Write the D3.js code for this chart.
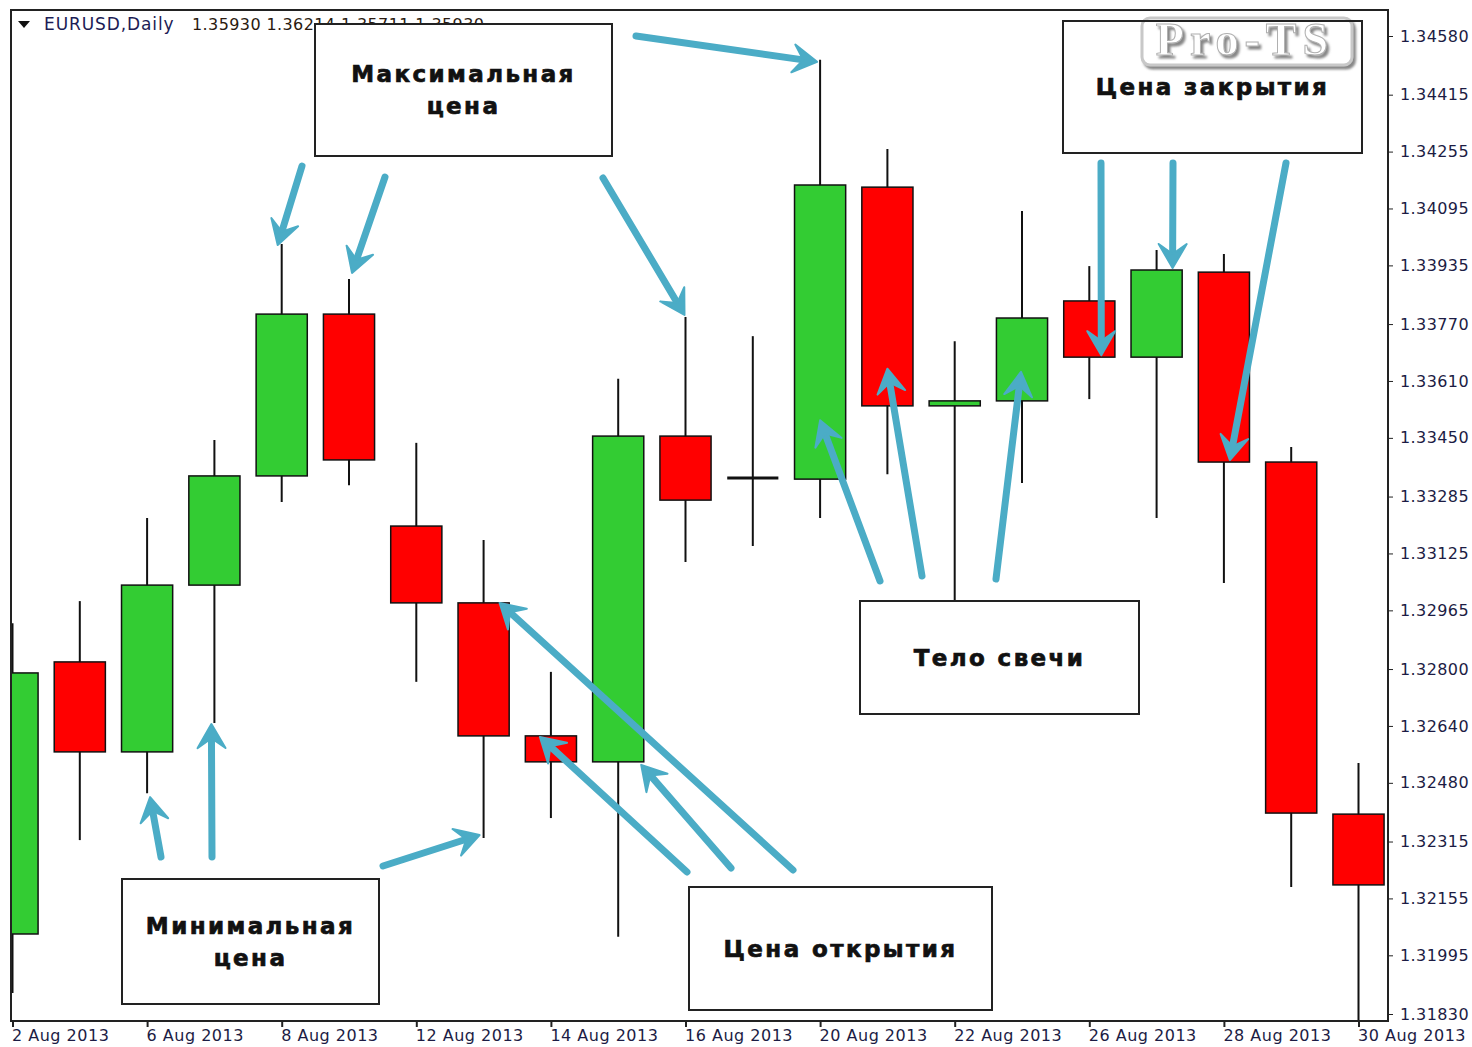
<!DOCTYPE html>
<html lang="ru">
<head>
<meta charset="UTF-8">
<title>EURUSD Daily</title>
<style>
  body { margin: 0; background: #fff; }
  svg { display: block; }
</style>
</head>
<body>
<script src="https://d3js.org/d3.v7.min.js"></script>
<script>
// candle dates (Aug 2013)
const dates = ["2013-08-02", "2013-08-05", "2013-08-06", "2013-08-07", "2013-08-08", "2013-08-09",
  "2013-08-12", "2013-08-13", "2013-08-14", "2013-08-15", "2013-08-16", "2013-08-19",
  "2013-08-20", "2013-08-21", "2013-08-22", "2013-08-23", "2013-08-26", "2013-08-27",
  "2013-08-28", "2013-08-29", "2013-08-30"];
const opens  = [1.32055, 1.32820, 1.32567, 1.33036, 1.33343, 1.33798, 1.33202, 1.32986, 1.32612, 1.32539, 1.33455,
  1.33337, 1.33334, 1.34155, 1.33540, 1.33554, 1.33835, 1.33677, 1.33916, 1.33382, 1.32392];
const highs  = [1.32929, 1.32991, 1.33225, 1.33444, 1.33995, 1.33897, 1.33436, 1.33163, 1.32792, 1.33616, 1.33790,
  1.33736, 1.34513, 1.34262, 1.33722, 1.34088, 1.33933, 1.33978, 1.33967, 1.33424, 1.32536];
const lows   = [1.31889, 1.32319, 1.32451, 1.32648, 1.33270, 1.33317, 1.32764, 1.32325, 1.32381, 1.32047, 1.33101,
  1.33146, 1.33225, 1.33348, 1.32960, 1.33323, 1.33559, 1.33225, 1.33042, 1.32187, 1.31800];
const closes = [1.32789, 1.32567, 1.33036, 1.33343, 1.33798, 1.33388, 1.32986, 1.32612, 1.32539, 1.33455, 1.33275,
  1.33337, 1.34161, 1.33540, 1.33554, 1.33787, 1.33677, 1.33922, 1.33382, 1.32395, 1.32193];

// axis labels
const yTickLabels = ["1.34580", "1.34415", "1.34255", "1.34095", "1.33935", "1.33770", "1.33610", "1.33450",
  "1.33285", "1.33125", "1.32965", "1.32800", "1.32640", "1.32480", "1.32315", "1.32155", "1.31995", "1.31830"];
const xTickDates = ["2013-08-02", "2013-08-06", "2013-08-08", "2013-08-12", "2013-08-14", "2013-08-16",
  "2013-08-20", "2013-08-22", "2013-08-26", "2013-08-28", "2013-08-30"];
const headerName = "EURUSD,Daily";
const headerValues = "1.35930 1.36214 1.35711 1.35930";

// Set Dimensions
const W = 1472, H = 1047;
const plot = {left: 11, top: 10, right: 1388, bottom: 1021};

const svg = d3.select("body").append("svg")
  .attr("width", W).attr("height", H)
  .style("font-family", "'DejaVu Sans', sans-serif");

svg.append("rect").attr("width", W).attr("height", H).attr("fill", "#fff");

const defs = svg.append("defs");
const shadow = defs.append("filter").attr("id", "logo-shadow")
  .attr("x", "-10%").attr("y", "-20%").attr("width", "130%").attr("height", "150%");
shadow.append("feDropShadow").attr("dx", 2.5).attr("dy", 3).attr("stdDeviation", 1.2)
  .attr("flood-color", "#7a7a7a").attr("flood-opacity", 0.9);

const x = d3.scalePoint().domain(dates).range([12.5, 1358.5]);
const y = d3.scaleLinear().domain([1.3183, 1.3458]).range([1014, 36]);
const bodyW = x.step() * 0.76;

const candles = dates.map((d, i) => ({date: d, o: opens[i], h: highs[i], l: lows[i], c: closes[i]}));

svg.append("clipPath").attr("id", "plot-clip")
  .append("rect")
  .attr("x", plot.left).attr("y", plot.top)
  .attr("width", plot.right - plot.left).attr("height", plot.bottom - plot.top);

const cg = svg.append("g").attr("clip-path", "url(#plot-clip)");

// wicks
cg.selectAll("line.wick").data(candles).enter().append("line")
  .attr("class", "wick")
  .attr("x1", d => x(d.date)).attr("x2", d => x(d.date))
  .attr("y1", d => y(d.h)).attr("y2", d => y(d.l))
  .attr("stroke", "#111").attr("stroke-width", 2);

// bodies
cg.selectAll("rect.body").data(candles.filter(d => d.o !== d.c)).enter().append("rect")
  .attr("class", "body")
  .attr("x", d => x(d.date) - bodyW / 2)
  .attr("width", bodyW)
  .attr("y", d => y(Math.max(d.o, d.c)))
  .attr("height", d => Math.max(1.5, Math.abs(y(d.o) - y(d.c))))
  .attr("fill", d => d.c > d.o ? "#33cc33" : "#ff0000")
  .attr("stroke", "#111").attr("stroke-width", 1.5);

// doji
cg.selectAll("line.doji").data(candles.filter(d => d.o === d.c)).enter().append("line")
  .attr("x1", d => x(d.date) - bodyW / 2).attr("x2", d => x(d.date) + bodyW / 2)
  .attr("y1", d => y(d.o)).attr("y2", d => y(d.o))
  .attr("stroke", "#111").attr("stroke-width", 3);

// frame
svg.append("rect")
  .attr("x", plot.left).attr("y", plot.top)
  .attr("width", plot.right - plot.left).attr("height", plot.bottom - plot.top)
  .attr("fill", "none").attr("stroke", "#222").attr("stroke-width", 2);

// right price axis
const yAxis = svg.append("g")
  .attr("transform", `translate(${plot.right},0)`)
  .call(d3.axisRight(y)
    .tickValues(yTickLabels.map(Number))
    .tickFormat((d, i) => yTickLabels[i])
    .tickSize(5).tickPadding(7));
yAxis.select(".domain").remove();
yAxis.selectAll("line").attr("stroke", "#222");
yAxis.selectAll("text").attr("font-size", 16).attr("fill", "#1c1c44")
  .attr("letter-spacing", 0.4)
  .attr("font-family", "'DejaVu Sans', sans-serif");

// bottom date axis
const fmt = d3.timeFormat("%-d %b %Y");
const xAxis = svg.append("g")
  .attr("transform", `translate(0,${plot.bottom})`)
  .call(d3.axisBottom(x)
    .tickValues(xTickDates)
    .tickFormat(d => fmt(d3.timeParse("%Y-%m-%d")(d)))
    .tickSize(6));
xAxis.select(".domain").remove();
xAxis.selectAll("line").attr("stroke", "#222").attr("stroke-width", 2);
xAxis.selectAll("text")
  .attr("text-anchor", "start").attr("y", 9).attr("x", -1)
  .attr("font-size", 16).attr("fill", "#1c1c44")
  .attr("letter-spacing", 0.5)
  .attr("font-family", "'DejaVu Sans', sans-serif");

// header
svg.append("path").attr("d", "M18,21 L30,21 L24,28 Z").attr("fill", "#111");
svg.append("text").attr("x", 44).attr("y", 30).attr("font-size", 17).attr("letter-spacing", 0.9)
  .attr("fill", "#1c1c55").text(headerName);
svg.append("text").attr("x", 192).attr("y", 30).attr("font-size", 16).attr("letter-spacing", 0.4)
  .attr("fill", "#2a1a10").text(headerValues);

// annotation boxes
const boxes = [
  {x: 315, y: 24, w: 297, h: 132, lines: ["Максимальная", "цена"]},
  {x: 122, y: 879, w: 257, h: 125, lines: ["Минимальная", "цена"]},
  {x: 860, y: 601, w: 279, h: 113, lines: ["Тело свечи"]},
  {x: 689, y: 887, w: 303, h: 123, lines: ["Цена открытия"]},
  {x: 1063, y: 21, w: 299, h: 132, lines: ["Цена закрытия"]}
];

const bg = svg.append("g");
boxes.forEach(b => {
  bg.append("rect").attr("x", b.x).attr("y", b.y).attr("width", b.w).attr("height", b.h)
    .attr("fill", "#fff");
});

// Pro-TS logo
const logo = svg.append("g");
logo.append("rect").attr("x", 1142).attr("y", 18).attr("width", 210).attr("height", 47).attr("rx", 8)
  .attr("fill", "#fff").attr("stroke", "#c8c8c8").attr("stroke-width", 3)
  .attr("filter", "url(#logo-shadow)");
logo.append("rect").attr("x", 1145).attr("y", 21).attr("width", 204).attr("height", 41).attr("rx", 6)
  .attr("fill", "#fff");
logo.append("text").attr("x", 1245).attr("y", 55).attr("text-anchor", "middle")
  .attr("font-family", "'Liberation Serif', serif").attr("font-weight", "bold")
  .attr("font-size", 46).attr("letter-spacing", 6)
  .attr("fill", "#fff").attr("stroke", "#b0b0b0").attr("stroke-width", 1)
  .attr("filter", "url(#logo-shadow)")
  .text("Pro-TS");

const fg = svg.append("g");
boxes.forEach(b => {
  fg.append("rect").attr("x", b.x).attr("y", b.y).attr("width", b.w).attr("height", b.h)
    .attr("fill", "none").attr("stroke", "#222").attr("stroke-width", 2);
  const cy = b.y + b.h / 2 - (b.lines.length - 1) * 16;
  b.lines.forEach((t, i) => {
    fg.append("text")
      .attr("x", b.x + b.w / 2).attr("y", cy + i * 32)
      .attr("dy", "0.35em")
      .attr("text-anchor", "middle")
      .attr("font-size", 23).attr("font-weight", "bold")
      .attr("letter-spacing", 2.4)
      .attr("fill", "#111").attr("stroke", "#111").attr("stroke-width", 0.7)
      .text(t);
  });
});

// arrows: tail in pixels, tip on a candle value
const arrows = [
  {from: [302, 166], i: 4, at: "h", dx: -4, dy: 1},
  {from: [385, 177], i: 5, at: "h", dx: 3, dy: -6},
  {from: [603, 178], i: 10, at: "h", dx: -1, dy: -2},
  {from: [636, 36], i: 12, at: "h", dx: -3, dy: 2},
  {from: [161, 857], i: 2, at: "l", dx: 3, dy: 4},
  {from: [212, 857], i: 3, at: "l", dx: -3, dy: 1},
  {from: [383, 866], i: 7, at: "l", dx: -4, dy: -3},
  {from: [687, 872], i: 8, at: "o", dx: -11, dy: 1},
  {from: [731, 868], i: 9, at: "o", dx: 23, dy: 3},
  {from: [793, 870], i: 7, at: "o", dx: 16, dy: 0},
  {from: [880, 581], i: 12, at: 0.2, dx: 0, dy: 0},
  {from: [922, 576], i: 13, at: 0.83, dx: 0, dy: 0},
  {from: [996, 579], i: 15, at: 0.35, dx: -1, dy: 0},
  {from: [1101, 163], i: 16, at: "c", dx: 12, dy: -2},
  {from: [1173, 163], i: 17, at: "c", dx: 16, dy: -2},
  {from: [1286, 163], i: 18, at: "c", dx: 6, dy: -2}
];

const ag = svg.append("g");
const blue = "#4bacc6";
arrows.forEach(a => {
  const d = candles[a.i];
  let ty;
  if (typeof a.at === "number") ty = y(d.o) + a.at * (y(d.c) - y(d.o));
  else ty = y(d[a.at]);
  const tx = x(d.date) + a.dx;
  ty += a.dy;
  const [fx, fy] = a.from;
  const len = Math.hypot(tx - fx, ty - fy);
  const ux = (tx - fx) / len, uy = (ty - fy) / len;
  const px = -uy, py = ux;
  const headL = 24, headW = 14, notch = 14;
  ag.append("line")
    .attr("x1", fx).attr("y1", fy)
    .attr("x2", tx - ux * notch).attr("y2", ty - uy * notch)
    .attr("stroke", blue).attr("stroke-width", 7).attr("stroke-linecap", "round");
  const pts = [
    [tx, ty],
    [tx - ux * headL + px * headW, ty - uy * headL + py * headW],
    [tx - ux * notch, ty - uy * notch],
    [tx - ux * headL - px * headW, ty - uy * headL - py * headW]
  ];
  ag.append("path").attr("d", "M" + pts.map(p => p.join(",")).join("L") + "Z")
    .attr("fill", blue).attr("stroke", blue).attr("stroke-width", 2).attr("stroke-linejoin", "round");
});
</script>
</body>
</html>
